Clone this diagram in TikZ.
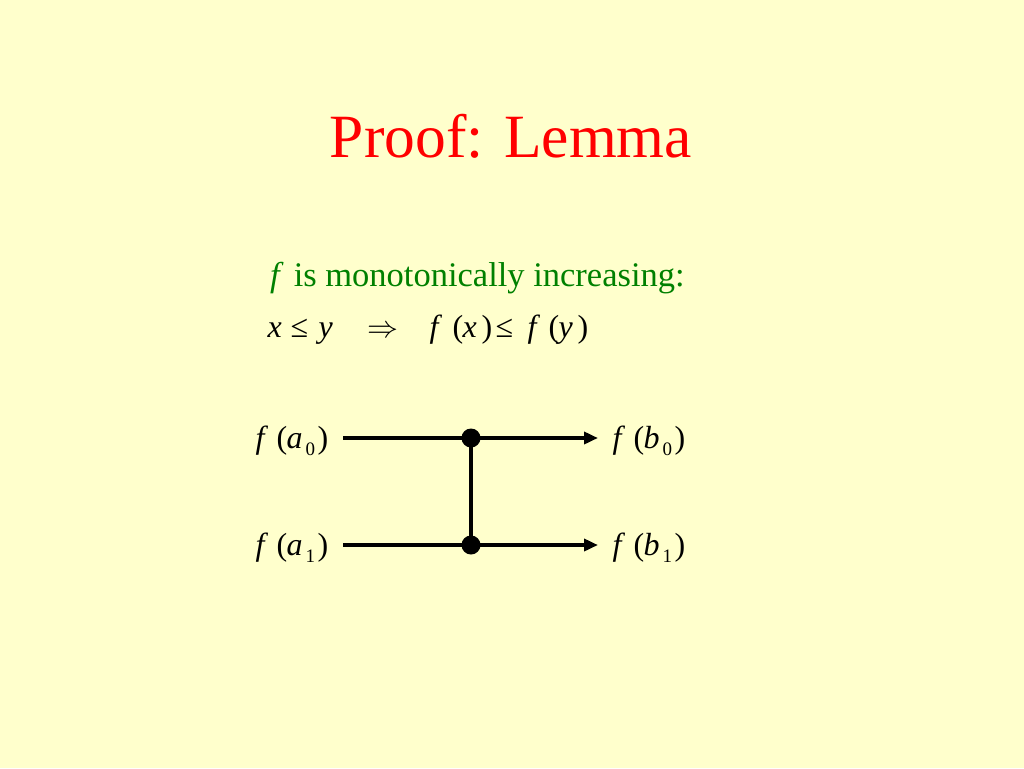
\documentclass[tikz,border=0pt]{standalone}
\usepackage{fontspec}
\setmainfont{Liberation Serif}
\usetikzlibrary{arrows.meta}
\definecolor{bg}{HTML}{FFFFCC}
\definecolor{titlered}{HTML}{FF0000}
\definecolor{textgreen}{HTML}{008000}
\newcommand{\gl}[2]{\rlap{\hspace{#1pt}#2}}
\newcommand{\subd}[1]{\raisebox{-7pt}{\fontsize{19}{19}\selectfont #1}}
\newcommand{\fsub}[2]{\gl{0}{\textit{f}}\gl{21}{(}\gl{31}{\textit{#1}}\gl{50}{\subd{#2}}\gl{62}{)}\hspace{73pt}}
\begin{document}
\begin{tikzpicture}[x=1pt,y=-1pt,
  lbl/.style={inner sep=0pt,font=\fontsize{32}{34}\selectfont},
  wire/.style={line width=3.6pt},
  arr/.style={wire,-{Triangle[length=14pt,width=12pt]},shorten >=0pt},
  dotnode/.style={circle,fill=black,inner sep=0pt,minimum size=19pt}]
\useasboundingbox (0,0) rectangle (1024,768);
\fill[bg] (0,0) rectangle (1024,768);
\node[inner sep=0pt,anchor=base,text=titlered,font=\fontsize{61.5}{66}\selectfont] (title) at (511,157) {Proof: Lemma};
\node[inner sep=0pt,anchor=base west,text=textgreen,font=\fontsize{34.5}{36}\selectfont] (mono) at (270,286) {\textit{f}\hspace{10pt}is monotonically increasing:};
\node[inner sep=0pt,anchor=base west,font=\fontsize{32}{34}\selectfont] (impl) at (267,337)
  {\gl{0}{\textit{x}}\gl{23}{≤}\gl{51}{\textit{y}}\gl{100}{\resizebox{31pt}{!}{$\Rightarrow$}}%
   \gl{162}{\textit{f}}\gl{185}{(}\gl{195}{\textit{x}}\gl{214}{)}\gl{228}{≤}%
   \gl{260}{\textit{f}}\gl{281}{(}\gl{291}{\textit{y}}\gl{310}{)}\hspace{321pt}};
% labels
\node[lbl,anchor=base west] (a0) at (255,448) {\fsub{a}{0}};
\node[lbl,anchor=base west] (a1) at (255,555) {\fsub{a}{1}};
\node[lbl,anchor=base west] (b0) at (612,448) {\fsub{b}{0}};
\node[lbl,anchor=base west] (b1) at (612,555) {\fsub{b}{1}};
% wire endpoints
\coordinate (s0) at (343,438);
\coordinate (s1) at (343,545);
\coordinate (e0) at (598,438);
\coordinate (e1) at (598,545);
\node[dotnode] (d0) at (471,438) {};
\node[dotnode] (d1) at (471,545) {};
\draw[arr] (s0) -- (e0);
\draw[arr] (s1) -- (e1);
\draw[wire] (d0.center) -- (d1.center);
\end{tikzpicture}
\end{document}
